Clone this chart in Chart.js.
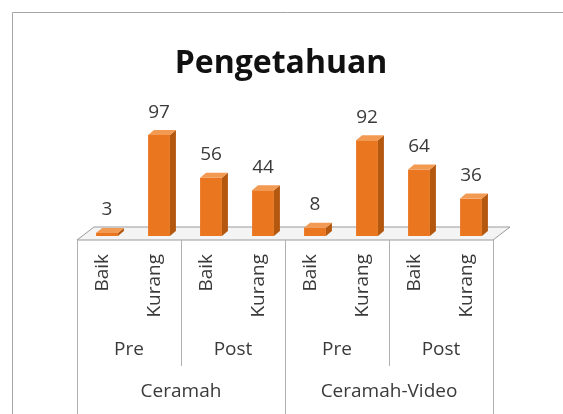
<!DOCTYPE html>
<html>
<head>
<meta charset="utf-8">
<script src="https://cdn.jsdelivr.net/npm/chart.js@4"></script>
<style>
  html, body { margin: 0; padding: 0; background: #fff; }
</style>
</head>
<body>
<canvas id="myChart" width="563" height="414"></canvas>
<script>
const title = 'Pengetahuan';
const labels = ['Baik', 'Kurang', 'Baik', 'Kurang', 'Baik', 'Kurang', 'Baik', 'Kurang'];
const phases = ['Pre', 'Post', 'Pre', 'Post'];
const methods = ['Ceramah', 'Ceramah-Video'];
const values = [3, 97, 56, 44, 8, 92, 64, 36];

const FONT = "'Open Sans', sans-serif";
const depth = { dx: 6, dy: -5 };
const shift = -4; // axis drawn a bit left of the bars (3D perspective)

const bars3d = {
    id: 'bars3d',
    beforeDraw(chart) {
        const c = chart.ctx;
        c.save();
        c.fillStyle = '#fff';
        c.fillRect(0, 0, chart.width, chart.height);
        c.strokeStyle = '#a6a6a6';
        c.lineWidth = 1;
        c.beginPath();
        c.moveTo(12.5, chart.height);
        c.lineTo(12.5, 12.5);
        c.lineTo(chart.width, 12.5);
        c.stroke();
        // title
        c.fillStyle = '#111';
        c.font = 'bold 32px ' + FONT;
        c.textAlign = 'center';
        c.textBaseline = 'alphabetic';
        c.fillText(title, 281, 73);
        c.restore();
    },
    beforeDatasetsDraw(chart) {
        // floor
        const c = chart.ctx;
        const a = chart.chartArea;
        const y = a.bottom + 4;
        const l = a.left + shift, r = a.right + shift;
        c.save();
        c.fillStyle = '#f4f4f4';
        c.strokeStyle = '#9a9a9a';
        c.lineWidth = 1;
        c.beginPath();
        c.moveTo(l, y);
        c.lineTo(r, y);
        c.lineTo(r + 17, y - 13);
        c.lineTo(l + 17, y - 13);
        c.closePath();
        c.fill();
        c.stroke();
        c.restore();
    },
    afterDatasetsDraw(chart) {
        const c = chart.ctx;
        const meta = chart.getDatasetMeta(0);
        c.save();
        meta.data.forEach((bar, i) => {
            const p = bar.getProps(['x', 'y', 'base', 'width'], true);
            const l = p.x - p.width / 2, r = p.x + p.width / 2;
            // side
            c.fillStyle = '#b45810';
            c.beginPath();
            c.moveTo(r, p.y);
            c.lineTo(r + depth.dx, p.y + depth.dy);
            c.lineTo(r + depth.dx, p.base + depth.dy);
            c.lineTo(r, p.base);
            c.closePath();
            c.fill();
            // top
            c.fillStyle = '#f39a52';
            c.beginPath();
            c.moveTo(l, p.y);
            c.lineTo(l + depth.dx, p.y + depth.dy);
            c.lineTo(r + depth.dx, p.y + depth.dy);
            c.lineTo(r, p.y);
            c.closePath();
            c.fill();
            // value label
            c.fillStyle = '#3a3a3a';
            c.font = '19px ' + FONT;
            c.textAlign = 'center';
            c.textBaseline = 'middle';
            c.fillText(values[i], p.x, p.y - 23);
        });
        c.restore();
    },
    afterDraw(chart) {
        const c = chart.ctx;
        const a = chart.chartArea;
        const xs = chart.scales.x;
        const half = (a.right - a.left) / labels.length / 2;
        const top = a.bottom + 4;
        c.save();
        c.strokeStyle = '#b0b0b0';
        c.lineWidth = 1;
        for (let i = 0; i <= labels.length; i += 2) {
            const px = i < labels.length ? xs.getPixelForValue(i) - half : xs.getPixelForValue(i - 1) + half;
            const x = Math.round(px + shift) + 0.5;
            c.beginPath();
            c.moveTo(x, top);
            c.lineTo(x, i % 4 === 0 ? chart.height : 366);
            c.stroke();
        }
        c.fillStyle = '#3a3a3a';
        c.font = '19px ' + FONT;
        c.textAlign = 'center';
        c.textBaseline = 'middle';
        phases.forEach((t, k) => {
            const x = (xs.getPixelForValue(2 * k) + xs.getPixelForValue(2 * k + 1)) / 2 + shift;
            c.fillText(t, x, 350);
        });
        methods.forEach((t, k) => {
            const x = (xs.getPixelForValue(4 * k) + xs.getPixelForValue(4 * k + 3)) / 2 + shift;
            c.fillText(t, x, 392);
        });
        c.restore();
    }
};

const ctx = document.getElementById('myChart').getContext('2d');

const myChart = new Chart(ctx, {
    type: 'bar',
    data: {
        labels: labels,
        datasets: [{
            data: values,
            backgroundColor: '#ea761f',
            borderWidth: 0,
            categoryPercentage: 1,
            barPercentage: 0.42
        }]
    },
    options: {
        responsive: false,
        animation: false,
        layout: { padding: { left: 81, right: 66, top: 132, bottom: 0 } },
        plugins: {
            legend: { display: false },
            tooltip: { enabled: false },
            title: { display: false }
        },
        scales: {
            x: {
                grid: { display: false, drawTicks: false },
                border: { display: false },
                ticks: {
                    minRotation: 90,
                    maxRotation: 90,
                    autoSkip: false,
                    padding: 18,
                    labelOffset: shift,
                    color: '#3a3a3a',
                    font: { family: FONT, size: 19 }
                },
                afterFit(scale) { scale.height = 414 - 236; }
            },
            y: {
                display: false,
                min: 0,
                max: 100
            }
        }
    },
    plugins: [bars3d]
});
</script>
</body>
</html>
